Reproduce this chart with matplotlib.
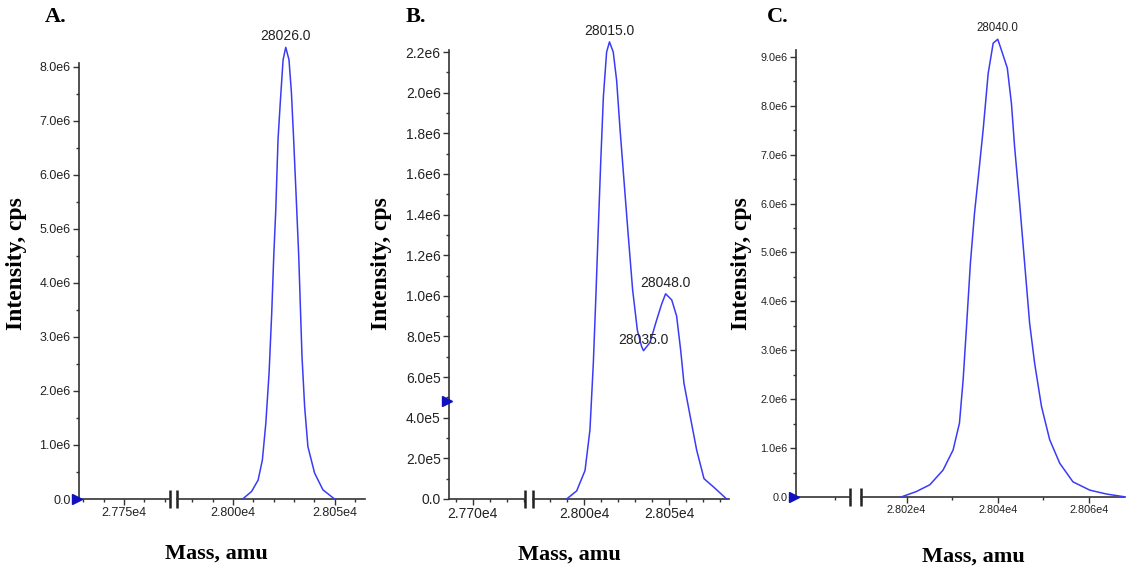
import numpy as np
import matplotlib
matplotlib.use("Agg")
import matplotlib.pyplot as plt
from matplotlib.ticker import MultipleLocator, FuncFormatter, NullLocator
from matplotlib.transforms import offset_copy

# --- data (mass in amu, intensity in cps) ---
mass_a = [28004.8, 28009.2, 28012.4, 28014.5, 28016.2, 28017.8, 28019.1, 28020.1,
          28021.1, 28022.2, 28023.4, 28024.7, 28026.0, 28027.6, 28028.8, 28029.9,
          28031.2, 28032.4, 28033.2, 28034.0, 28035.3, 28036.9, 28040.2, 28044.3, 28050.0]
int_a = [0.0, 0.14, 0.35, 0.72, 1.40, 2.33, 3.44, 4.49, 5.35, 6.65, 7.39, 8.13, 8.36,
         8.13, 7.52, 6.65, 5.54, 4.49, 3.56, 2.64, 1.71, 0.97, 0.48, 0.17, 0.0]

mass_b = [27989.8, 27995.7, 28000.6, 28003.5, 28005.5, 28007.0, 28008.4, 28009.8,
          28011.4, 28013.3, 28015.0, 28017.2, 28019.2, 28021.2, 28023.5, 28026.1,
          28028.6, 28031.4, 28033.9, 28035.0, 28038.8, 28042.7, 28045.7, 28048.0,
          28051.6, 28054.5, 28056.9, 28058.8, 28062.4, 28066.3, 28070.6, 28076.1, 28083.9]
int_b = [0.0, 0.04, 0.14, 0.34, 0.67, 1.00, 1.33, 1.65, 1.98, 2.20, 2.25, 2.20, 2.06,
         1.82, 1.57, 1.29, 1.03, 0.83, 0.75, 0.73, 0.77, 0.88, 0.96, 1.01, 0.98, 0.90,
         0.73, 0.57, 0.41, 0.24, 0.10, 0.06, 0.0]

mass_c = [28018.8, 28022.1, 28025.1, 28028.0, 28030.2, 28031.6, 28032.4, 28033.1,
          28034.0, 28034.9, 28035.9, 28036.8, 28037.9, 28039.0, 28040.0, 28040.8,
          28042.1, 28043.0, 28043.7, 28044.8, 28045.9, 28047.0, 28048.1, 28049.6,
          28051.4, 28053.6, 28056.5, 28060.2, 28063.9, 28068.1]
int_c = [0.0, 0.11, 0.25, 0.55, 0.96, 1.51, 2.39, 3.41, 4.78, 5.80, 6.69, 7.51, 8.66,
         9.28, 9.36, 9.14, 8.77, 8.05, 7.16, 6.01, 4.78, 3.55, 2.73, 1.85, 1.17, 0.69,
         0.31, 0.14, 0.06, 0.0]

peaks_a = [28026.0]
peaks_b = [28015.0, 28048.0, 28035.0]
peaks_c = [28040.0]

threshold = [0.0, 0.48e6, 0.0]
panel_letters = ["A.", "B.", "C."]

W, H = 1126, 571
fig = plt.figure(figsize=(W / 100, H / 100), dpi=100)

BLUE = "#3b3bf7"
AXC = "#333333"
SERIF = "Liberation Serif"
SANS = "Liberation Sans"


def box(x0, x1, ytop, ybot):
    return [x0 / W, 1 - ybot / H, (x1 - x0) / W, (ybot - ytop) / H]


def yfmt(v, pos):
    v = round(v)
    if v == 0:
        return "0.0"
    e = int(np.floor(np.log10(abs(v))))
    return f"{v / 10 ** e:.1f}e{e}"


def xfmt(v, pos):
    return f"{v / 1e4:.3f}e4"


def style(ax, fs):
    for s in ["top", "right"]:
        ax.spines[s].set_visible(False)
    for s in ["left", "bottom"]:
        ax.spines[s].set_color(AXC)
        ax.spines[s].set_linewidth(1.2)
    ax.tick_params(which="both", direction="out", color=AXC, labelcolor="#222222",
                   labelsize=fs, width=1.0, pad=2)
    ax.tick_params(which="major", length=4)
    ax.tick_params(which="minor", length=2.5)
    for lab in ax.get_xticklabels() + ax.get_yticklabels():
        lab.set_family(SANS)


def panel(px, ytop, ybot, lim_l, lim_r, ymax, xmaj, ymaj, ymin, fs, pfs,
          mass, inten, peaks, thr, left_major=True):
    axl = fig.add_axes(box(px[0], px[1], ytop, ybot))
    axr = fig.add_axes(box(px[2], px[3], ytop, ybot), sharey=axl)
    axl.set_xlim(*lim_l)
    axr.set_xlim(*lim_r)
    axl.set_ylim(0, ymax)
    for ax in (axl, axr):
        ax.patch.set_alpha(0)
        ax.xaxis.set_major_locator(MultipleLocator(xmaj))
        ax.xaxis.set_minor_locator(MultipleLocator(10))
        ax.xaxis.set_major_formatter(FuncFormatter(xfmt))
    if not left_major:
        axl.xaxis.set_major_locator(NullLocator())
    axl.yaxis.set_major_locator(MultipleLocator(ymaj))
    axl.yaxis.set_minor_locator(MultipleLocator(ymin))
    axl.yaxis.set_major_formatter(FuncFormatter(yfmt))
    style(axl, fs)
    style(axr, fs)
    axr.spines["left"].set_visible(False)
    axr.tick_params(axis="y", which="both", left=False, labelleft=False)

    y = np.array(inten) * 1e6
    axr.plot(mass, y, color=BLUE, lw=1.1, clip_on=False, zorder=3)
    for m in peaks:
        v = y[list(mass).index(m)]
        axr.annotate(f"{m:.1f}", (m, v), xytext=(0, 8), textcoords="offset points",
                     ha="center", va="center", fontsize=pfs, family=SANS,
                     color="#222222", annotation_clip=False)

    # axis break marks
    axl.plot(1, 0, marker="|", ms=13, mew=1.8, color="#222222",
             transform=axl.transAxes, clip_on=False)
    axr.plot(0, 0, marker="|", ms=13, mew=1.8, color="#222222",
             transform=axr.transAxes, clip_on=False)
    # threshold marker on the intensity axis, sitting just left of it
    tr = offset_copy(axl.transData, fig=fig, x=-2, y=0, units="dots")
    axl.plot(lim_l[0], thr, marker=">", ms=6.5, color="#1010c0", clip_on=False,
             zorder=4, transform=tr)
    return axl, axr


panel((79, 170, 177, 365), 63, 499, (27728, 27772.5), (27972.5, 28065), 8.07e6,
      50, 1e6, 0.5e6, 9, 10, mass_a, int_a, peaks_a, threshold[0])
panel((449, 525, 533, 729), 50, 499, (27686, 27730.6), (27970, 28085.3), 2.21e6,
      50, 2e5, 1e5, 10, 10, mass_b, int_b, peaks_b, threshold[1])
panel((796, 850, 861, 1124), 50, 497, (27991.5, 28003.4), (28010, 28067.7), 9.14e6,
      20, 1e6, 0.5e6, 7.8, 8.3, mass_c, int_c, peaks_c, threshold[2], left_major=False)

# panel letters and axis titles
for x, t in zip([56, 416, 778], panel_letters):
    fig.text(x / W, 1 - 17 / H, t, ha="center", va="center", fontsize=16,
             weight="bold", family=SERIF)
for x in [17, 381, 741]:
    fig.text(x / W, 1 - 264 / H, "Intensity, cps", rotation=90, ha="center",
             va="center", fontsize=17, weight="bold", family=SERIF)
for x, yy in zip([216, 569, 973], [554, 555, 557]):
    fig.text(x / W, 1 - yy / H, "Mass, amu", ha="center", va="center",
             fontsize=16, weight="bold", family=SERIF)

fig.savefig("out.png", dpi=100)
